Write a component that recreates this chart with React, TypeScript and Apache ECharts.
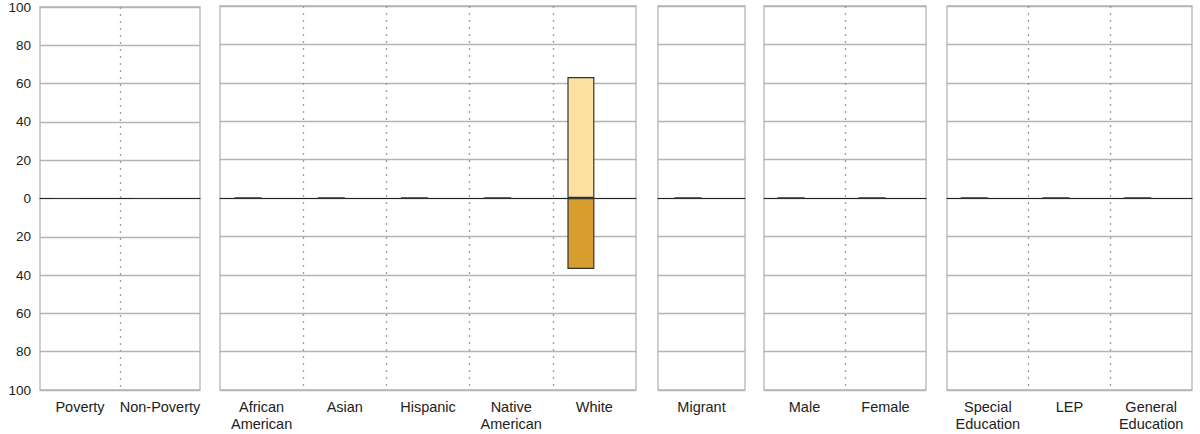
import React, { useEffect, useRef } from "react";
import * as echarts from "echarts";

const povertyCats = ["Poverty", "Non-Poverty"];
const raceCats = ["African\nAmerican", "Asian", "Hispanic", "Native\nAmerican", "White"];
const migrantCats = ["Migrant"];
const genderCats = ["Male", "Female"];
const programCats = ["Special\nEducation", "LEP", "General\nEducation"];

const povertyUpper = [0, 0];
const povertyLower = [0, 0];
const raceUpper = [0, 0, 0, 0, 63];
const raceLower = [0, 0, 0, 0, -37];
const migrantUpper = [0];
const migrantLower = [0];
const genderUpper = [0, 0];
const genderLower = [0, 0];
const programUpper = [0, 0, 0];
const programLower = [0, 0, 0];

const yTicks = [-100, -80, -60, -40, -20, 0, 20, 40, 60, 80, 100];

const panels = [
  { cats: povertyCats, upper: povertyUpper, lower: povertyLower, left: 40, right: 200 },
  { cats: raceCats, upper: raceUpper, lower: raceLower, left: 220, right: 636 },
  { cats: migrantCats, upper: migrantUpper, lower: migrantLower, left: 658, right: 745 },
  { cats: genderCats, upper: genderUpper, lower: genderLower, left: 764, right: 926 },
  { cats: programCats, upper: programUpper, lower: programLower, left: 947, right: 1192 },
];

export default function App() {
  const ref = useRef<HTMLDivElement>(null);
  useEffect(() => {
    if (!ref.current) return;
    const chart = echarts.init(ref.current, null, { renderer: "svg" });
    const font = "'Liberation Sans', Arial, sans-serif";
    const grids: any[] = [];
    const xAxes: any[] = [];
    const yAxes: any[] = [];
    const series: any[] = [];
    panels.forEach((p, i) => {
      grids.push({
        left: p.left,
        width: p.right - p.left,
        top: 6,
        height: 384,
        show: true,
        borderColor: "#b4b4b4",
        borderWidth: 1.3,
        backgroundColor: "transparent",
      });
      xAxes.push({
        type: "category",
        gridIndex: i,
        data: p.cats,
        axisLine: { onZero: true, lineStyle: { color: "#222", width: 1.2 } },
        axisTick: { show: false },
        splitLine: {
          show: true,
          showMinLine: false,
          showMaxLine: false,
          lineStyle: { color: "#9c9c9c", type: [2, 5], width: 1.3 },
        },
        axisLabel: {
          color: "#222",
          fontSize: 14.5,
          fontFamily: font,
          margin: 8,
          lineHeight: 17,
          interval: 0,
        },
        position: "bottom",
      });
      yAxes.push({
        type: "value",
        gridIndex: i,
        min: yTicks[0],
        max: yTicks[yTicks.length - 1],
        interval: 20,
        axisLine: { show: false },
        axisTick: { show: false },
        splitLine: { show: true, lineStyle: { color: "#b4b4b4", width: 1.3 } },
        axisLabel: {
          show: i === 0,
          color: "#222",
          fontSize: 13.5,
          fontFamily: font,
          margin: 9,
          formatter: (v: number) => String(Math.abs(v)),
        },
      });
      series.push({
        type: "bar",
        xAxisIndex: i,
        yAxisIndex: i,
        stack: "a" + i,
        barWidth: 27,
        barGap: "0%",
        data: p.upper,
        itemStyle: { color: "#FDE0A2", borderColor: "#333", borderWidth: 1.2 },
        z: 3,
      });
      series.push({
        type: "bar",
        xAxisIndex: i,
        yAxisIndex: i,
        stack: "a" + i,
        barWidth: 27,
        barGap: "0%",
        data: p.lower,
        itemStyle: { color: "#D79E2F", borderColor: "#333", borderWidth: 1.2 },
        z: 3,
      });
      series.push({
        type: "bar",
        xAxisIndex: i,
        yAxisIndex: i,
        stack: "b" + i,
        barWidth: 27,
        barGap: "0%",
        data: p.cats.map(() => null),
        itemStyle: { color: "transparent" },
      });
    });
    chart.setOption({
      animation: false,
      backgroundColor: "#fff",
      grid: grids,
      xAxis: xAxes,
      yAxis: yAxes,
      series,
    });
    return () => chart.dispose();
  }, []);
  return (
    <div
      ref={ref}
      style={{ position: "fixed", left: 0, top: 0, width: 1200, height: 434 }}
    />
  );
}
